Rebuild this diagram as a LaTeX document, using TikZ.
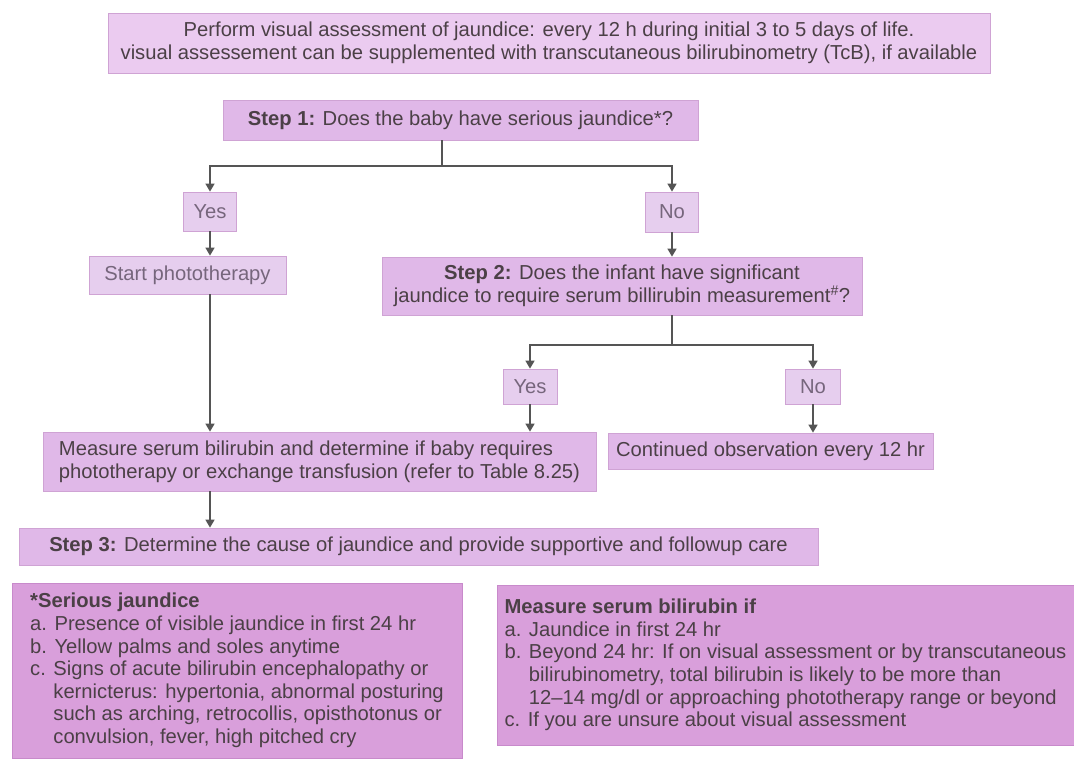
\documentclass[tikz,border=0pt]{standalone}
\usepackage{fontspec}
\setmainfont{Liberation Sans}
\usetikzlibrary{arrows.meta}
\definecolor{txt}{HTML}{4B4046}
\definecolor{faded}{HTML}{76667C}
\definecolor{topfill}{HTML}{EBCBF0}
\definecolor{stepfill}{HTML}{E0B8E8}
\definecolor{ansfill}{HTML}{E6CEEE}
\definecolor{notefill}{HTML}{D99FDB}
\definecolor{edge}{HTML}{CFA3D4}
\definecolor{noteedge}{HTML}{C88ACB}
\definecolor{lnc}{HTML}{555555}
\begin{document}
\begin{tikzpicture}[x=1pt,y=-1pt,
  box/.style={draw=edge, line width=0.8pt, fill=stepfill, text=txt, inner sep=0pt, font=\fontsize{20.2}{22.6}\selectfont},
  ans/.style={box, fill=ansfill, text=faded},
  note/.style={box, fill=notefill, draw=noteedge},
  conn/.style={draw=lnc, line width=1.6pt},
  arr/.style={conn, -{Triangle[length=8pt,width=9pt]}}]
\useasboundingbox (0,0) rectangle (1074,761);
\fill[white] (0,0) rectangle (1074,761);

\node[box, fill=topfill, minimum width=882pt, minimum height=60pt, align=center] (top) at (549,43)
  {Perform visual assessment of jaundice: every 12 h during initial 3 to 5 days of life.\\visual assessement can be supplemented with transcutaneous bilirubinometry (TcB), if available};
\node[box, minimum width=475pt, minimum height=40pt] (step1) at (460.5,120)
  {\textbf{Step 1:} Does the baby have serious jaundice*?};
\node[ans, minimum width=53pt, minimum height=39pt] (yes1) at (210,211.5) {Yes};
\node[ans, minimum width=53pt, minimum height=40pt] (no1) at (672,212) {No};
\node[ans, minimum width=197pt, minimum height=38pt] (start) at (187.5,275) {Start phototherapy};
\node[box, minimum width=480pt, minimum height=58pt, align=center] (step2) at (622,286)
  {\textbf{Step 2:} Does the infant have significant\\jaundice to require serum billirubin measurement\textsuperscript{\#}?};
\node[ans, minimum width=54pt, minimum height=35pt] (yes2) at (530,386.5) {Yes};
\node[ans, minimum width=55pt, minimum height=35pt] (no2) at (813,386.5) {No};
\node[box, minimum width=553pt, minimum height=59pt, align=left] (meas) at (319.5,461.5)
  {Measure serum bilirubin and determine if baby requires\\phototherapy or exchange transfusion (refer to Table 8.25)};
\node[box, minimum width=325pt, minimum height=36pt] (cont) at (770.5,451) {Continued observation every 12 hr};
\node[box, minimum width=799pt, minimum height=37pt] (step3) at (418.5,546.5)
  {\textbf{Step 3:} Determine the cause of jaundice and provide supportive and followup care};
\node[note, minimum width=450pt, minimum height=175pt, align=left] (serious) at (237,670.5)
  {\textbf{*Serious jaundice}\\
   a. Presence of visible jaundice in first 24 hr\\
   b. Yellow palms and soles anytime\\
   c. Signs of acute bilirubin encephalopathy or\\
   \hphantom{c. }kernicterus: hypertonia, abnormal posturing\\
   \hphantom{c. }such as arching, retrocollis, opisthotonus or\\
   \hphantom{c. }convulsion, fever, high pitched cry};
\node[note, minimum width=577pt, minimum height=160pt, align=left] (msb) at (785.5,665)
  {\textbf{Measure serum bilirubin if}\\
   a. Jaundice in first 24 hr\\
   b. Beyond 24 hr: If on visual assessment or by transcutaneous\\
   \hphantom{b. }bilirubinometry, total bilirubin is likely to be more than\\
   \hphantom{b. }12–14 mg/dl or approaching phototherapy range or beyond\\
   c. If you are unsure about visual assessment};

\coordinate (j1) at (442,166);
\coordinate (j2) at (672,345);
\draw[conn] (step1.south -| j1) -- (j1);
\draw[arr] (j1) -| (yes1.north);
\draw[arr] (j1) -| (no1.north);
\draw[arr] (yes1.south) -- (start.north -| yes1);
\draw[arr] (no1.south) -- (step2.north -| no1);
\draw[arr] (start.south -| yes1) -- (meas.north -| yes1);
\draw[conn] (step2.south -| j2) -- (j2);
\draw[arr] (j2) -| (yes2.north);
\draw[arr] (j2) -| (no2.north);
\draw[arr] (yes2.south) -- (meas.north -| yes2);
\draw[arr] (no2.south) -- (cont.north -| no2);
\draw[arr] (meas.south -| yes1) -- (step3.north -| yes1);
\end{tikzpicture}
\end{document}
